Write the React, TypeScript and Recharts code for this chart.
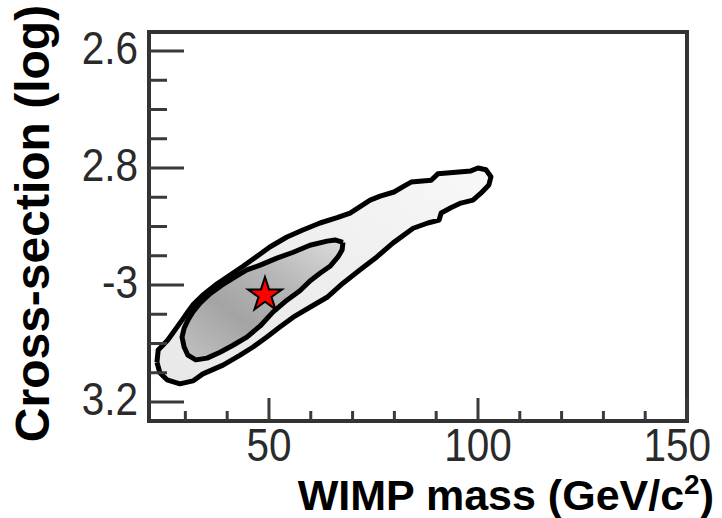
import React from 'react';
import { ScatterChart, Scatter, XAxis, YAxis, ReferenceArea, Symbols } from 'recharts';

// Axis domains and ticks
const xDomain: [number, number] = [21.3, 150];
const yDomain: [number, number] = [-3.2325, -2.5675];
const xTicks = [30, 40, 50, 60, 70, 80, 90, 100, 110, 120, 130, 140, 150];
const xMajorTicks = [50, 100, 150];
const xTickLabels = ['50', '100', '150'];
const yTicks = [-2.6, -2.65, -2.7, -2.75, -2.8, -2.85, -2.9, -2.95, -3.0, -3.05, -3.1, -3.15, -3.2];
const yMajorTicks = [-2.6, -2.8, -3.0, -3.2];
const yTickLabels = ['2.6', '2.8', '-3', '3.2'];

// Outer contour (WIMP mass, log cross-section)
const outerX = [23.2, 23.5, 24.6, 25.8, 27.0, 28.0, 29.2, 30.4, 31.8, 34.2, 37.6, 40.7, 43.8, 47.9, 50.2, 54.3, 58.1, 62.2, 66.3, 69.4, 74.2, 76.6, 79.9, 82.3, 84.0, 88.8, 90.4, 98.3, 100.0, 101.9, 103.1, 102.6, 100.7, 98.8, 95.9, 93.5, 91.2, 90.7, 88.0, 84.5, 79.7, 75.8, 71.8, 67.7, 63.9, 59.8, 55.8, 52.6, 49.5, 46.2, 43.1, 39.0, 34.2, 31.8, 28.7, 25.6, 23.9, 23.2];
const outerY = [-3.132, -3.111, -3.103, -3.094, -3.082, -3.072, -3.060, -3.048, -3.034, -3.017, -2.998, -2.983, -2.968, -2.947, -2.935, -2.918, -2.906, -2.894, -2.885, -2.877, -2.855, -2.848, -2.841, -2.831, -2.824, -2.821, -2.810, -2.805, -2.800, -2.803, -2.815, -2.829, -2.843, -2.855, -2.860, -2.868, -2.877, -2.889, -2.894, -2.903, -2.928, -2.952, -2.974, -2.997, -3.021, -3.038, -3.055, -3.072, -3.089, -3.106, -3.120, -3.137, -3.152, -3.164, -3.169, -3.162, -3.150, -3.132];

// Inner contour
const innerX = [67.7, 65.8, 63.9, 59.8, 55.8, 51.9, 47.9, 44.7, 41.9, 38.8, 35.9, 33.5, 31.8, 30.6, 29.7, 29.2, 29.7, 30.6, 32.5, 35.2, 38.3, 41.4, 44.7, 47.9, 51.0, 54.3, 57.4, 59.8, 62.2, 64.6, 66.5, 67.5, 67.7];
const innerY = [-2.927, -2.923, -2.925, -2.932, -2.944, -2.954, -2.966, -2.974, -2.986, -3.000, -3.015, -3.031, -3.046, -3.060, -3.074, -3.089, -3.106, -3.120, -3.128, -3.125, -3.115, -3.103, -3.089, -3.070, -3.046, -3.026, -3.010, -2.993, -2.980, -2.968, -2.952, -2.940, -2.927];

// Best fit point
const bestX = [49.05];
const bestY = [-3.017];

const toPts = (xs: number[], ys: number[]) => xs.map((x, i) => ({ x, y: ys[i] }));
const outerData = toPts(outerX, outerY);
const innerData = toPts(innerX, innerY);
const bestData = toPts(bestX, bestY);

const FONT = '"Liberation Sans", Arial, Helvetica, sans-serif';
const TICK_COLOR = '#3a3a3a';
const LABEL_COLOR = '#2a2a2a';

const XTick = (props: any) => {
  const { x, y, payload } = props;
  const v = payload.value;
  const idx = xMajorTicks.findIndex((m) => Math.abs(m - v) < 1e-6);
  const isMajor = idx >= 0;
  const last = idx === xMajorTicks.length - 1;
  return (
    <g>
      <line x1={x} x2={x} y1={y} y2={y - (isMajor ? 23 : 10)} stroke={TICK_COLOR} strokeWidth={3} />
      {isMajor && (
        <text
          transform={`translate(${last ? x + 24 : x},${y + 40}) scale(0.88,1)`}
          textAnchor={last ? 'end' : 'middle'}
          fontSize={46}
          fontFamily={FONT}
          fill={LABEL_COLOR}
        >
          {xTickLabels[idx]}
        </text>
      )}
    </g>
  );
};

const YTick = (props: any) => {
  const { x, y, payload } = props;
  const v = payload.value;
  const idx = yMajorTicks.findIndex((m) => Math.abs(m - v) < 1e-6);
  const isMajor = idx >= 0;
  return (
    <g>
      <line x1={x} x2={x + (isMajor ? 35 : 18)} y1={y} y2={y} stroke={TICK_COLOR} strokeWidth={3} />
      {isMajor && (
        <text
          transform={`translate(${x - 11},${y + 13}) scale(0.88,1)`}
          textAnchor="end"
          fontSize={46}
          fontFamily={FONT}
          fill={LABEL_COLOR}
        >
          {yTickLabels[idx]}
        </text>
      )}
    </g>
  );
};

const YTitle = (props: any) => {
  const vb = props.viewBox || { x: 0, y: 32, width: 149, height: 389 };
  const tx = vb.x + 49;
  const ty = vb.y + vb.height / 2 - 3;
  return (
    <text
      x={tx}
      y={ty}
      transform={`rotate(-90, ${tx}, ${ty})`}
      textAnchor="middle"
      fontSize={48}
      fontWeight="bold"
      fontFamily={FONT}
      fill="#000"
    >
      Cross-section (log)
    </text>
  );
};

const XTitle = (props: any) => {
  const vb = props.viewBox || { x: 149, y: 421, width: 538, height: 97 };
  const tx = vb.x + vb.width + 27;
  const ty = vb.y + 89;
  return (
    <text x={tx} y={ty} textAnchor="end" fontSize={43} fontWeight="bold" fontFamily={FONT} fill="#000">
      WIMP mass (GeV/c
      <tspan dy={-16} fontSize={28}>2</tspan>
      <tspan dy={16}>)</tspan>
    </text>
  );
};

const noDot = () => <g />;

const StarShape = (props: any) => (
  <Symbols cx={props.cx} cy={props.cy} type="star" size={360} sizeType="area" fill="#ff0000" stroke="#000" strokeWidth={2} />
);

export default function App() {
  return (
    <div style={{ position: 'absolute', left: 0, top: 0, width: 722, height: 518, background: '#fff' }}>
      <ScatterChart width={722} height={518} margin={{ top: 32, right: 35, bottom: 0, left: 0 }}>
        <defs>
          <linearGradient id="outerGrad" x1="0" y1="1" x2="1" y2="0">
            <stop offset="0%" stopColor="#e8e8e8" />
            <stop offset="50%" stopColor="#eeeeee" />
            <stop offset="100%" stopColor="#f8f8f8" />
          </linearGradient>
          <linearGradient id="innerGrad" x1="0" y1="1" x2="1" y2="0">
            <stop offset="0%" stopColor="#c2c2c2" />
            <stop offset="35%" stopColor="#a4a4a4" />
            <stop offset="65%" stopColor="#b8b8b8" />
            <stop offset="100%" stopColor="#dcdcdc" />
          </linearGradient>
        </defs>
        <XAxis
          type="number"
          dataKey="x"
          domain={xDomain}
          ticks={xTicks}
          interval={0}
          height={97}
          tickSize={0}
          tickMargin={0}
          axisLine={false}
          tickLine={false}
          tick={<XTick />}
          allowDataOverflow
          label={(p: any) => <XTitle {...p} />}
        />
        <YAxis
          type="number"
          dataKey="y"
          domain={yDomain}
          ticks={yTicks}
          interval={0}
          width={149}
          tickSize={0}
          tickMargin={0}
          axisLine={false}
          tickLine={false}
          tick={<YTick />}
          allowDataOverflow
          label={(p: any) => <YTitle {...p} />}
        />
        <ReferenceArea
          x1={xDomain[0]}
          x2={xDomain[1]}
          y1={yDomain[0]}
          y2={yDomain[1]}
          fill="none"
          fillOpacity={0}
          stroke="#333"
          strokeWidth={4}
          ifOverflow="visible"
        />
        <Scatter
          data={outerData}
          isAnimationActive={false}
          shape={noDot}
          line={{ stroke: '#000', strokeWidth: 5, fill: 'url(#outerGrad)', strokeLinejoin: 'round' }}
          lineType="joint"
        />
        <Scatter
          data={innerData}
          isAnimationActive={false}
          shape={noDot}
          line={{ stroke: '#000', strokeWidth: 5, fill: 'url(#innerGrad)', strokeLinejoin: 'round' }}
          lineType="joint"
        />
        <Scatter data={bestData} isAnimationActive={false} shape={<StarShape />} />
      </ScatterChart>
    </div>
  );
}
